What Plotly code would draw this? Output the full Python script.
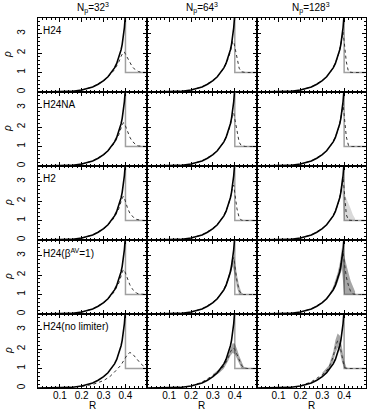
import plotly.graph_objects as go
from plotly.subplots import make_subplots

# exact solution behind the shock (black)
R_EXACT = [0.0, 0.05, 0.10, 0.15, 0.20, 0.225, 0.25, 0.275, 0.30, 0.32, 0.34, 0.35,
           0.36, 0.37, 0.38, 0.385, 0.39, 0.395, 0.40]
RHO_EXACT = [0.0, 0.0, 0.005, 0.03, 0.10, 0.17, 0.26, 0.40, 0.58, 0.78, 1.05, 1.24,
             1.47, 1.77, 2.17, 2.45, 2.80, 3.30, 4.0]
# jump back to the ambient density (grey)
R_JUMP = [0.40, 0.40, 0.50]
RHO_JUMP = [4.0, 1.0, 1.0]

COL_TITLES = ["N<sub>p</sub>=32<sup>3</sup>", "N<sub>p</sub>=64<sup>3</sup>",
              "N<sub>p</sub>=128<sup>3</sup>"]
ROW_LABELS = ["H24", "H24NA", "H2", "H24(β<sup>AV</sup>=1)", "H24(no limiter)"]

# particle profiles, sampled on a common radius grid
R_SIM = [0.20, 0.25, 0.30, 0.33, 0.35, 0.36, 0.37, 0.38, 0.385, 0.39, 0.395, 0.40,
         0.41, 0.42, 0.43, 0.44, 0.45, 0.46, 0.47, 0.48, 0.49, 0.50]

H24_32 = [0.10, 0.26, 0.57, 0.88, 1.15, 1.32, 1.55, 1.83, 1.97, 2.05, 2.05, 1.95,
          1.72, 1.50, 1.32, 1.19, 1.10, 1.05, 1.02, 1.00, 1.00, 1.00]
H24_64 = [0.10, 0.26, 0.58, 0.90, 1.22, 1.44, 1.72, 2.08, 2.38, 2.60, 2.60, 2.30,
          1.65, 1.22, 1.04, 1.00, 1.00, 1.00, 1.00, 1.00, 1.00, 1.00]
H24_128 = [0.10, 0.26, 0.58, 0.91, 1.24, 1.47, 1.77, 2.17, 2.45, 2.78, 3.08, 2.60,
           1.55, 1.03, 1.00, 1.00, 1.00, 1.00, 1.00, 1.00, 1.00, 1.00]

H24NA_32 = [0.10, 0.26, 0.57, 0.89, 1.18, 1.37, 1.62, 1.95, 2.12, 2.22, 2.20, 2.05,
            1.75, 1.48, 1.28, 1.15, 1.07, 1.03, 1.01, 1.00, 1.00, 1.00]
H24NA_64 = [0.10, 0.26, 0.58, 0.90, 1.23, 1.45, 1.74, 2.12, 2.45, 2.68, 2.72, 2.40,
            1.70, 1.22, 1.04, 1.00, 1.00, 1.00, 1.00, 1.00, 1.00, 1.00]
H24NA_128 = [0.10, 0.26, 0.58, 0.91, 1.24, 1.47, 1.77, 2.17, 2.45, 2.80, 3.20, 2.70,
             1.50, 1.05, 1.00, 1.00, 1.00, 1.00, 1.00, 1.00, 1.00, 1.00]

H2_32 = [0.10, 0.26, 0.57, 0.88, 1.17, 1.36, 1.62, 1.98, 2.18, 2.25, 2.15, 1.95,
         1.62, 1.38, 1.22, 1.12, 1.06, 1.03, 1.01, 1.00, 1.00, 1.00]
H2_64 = [0.10, 0.26, 0.59, 0.92, 1.25, 1.48, 1.78, 2.18, 2.48, 2.75, 2.82, 2.40,
         1.60, 1.15, 1.02, 1.00, 1.00, 1.00, 1.00, 1.00, 1.00, 1.00]
H2_128 = [0.10, 0.26, 0.58, 0.91, 1.24, 1.47, 1.77, 2.17, 2.45, 2.80, 3.25, 2.60,
          1.30, 1.02, 1.00, 1.00, 1.00, 1.00, 1.00, 1.00, 1.00, 1.00]

H24B_32 = [0.10, 0.26, 0.57, 0.88, 1.16, 1.35, 1.60, 1.95, 2.18, 2.28, 2.25, 2.10,
           1.78, 1.50, 1.30, 1.17, 1.08, 1.03, 1.01, 1.00, 1.00, 1.00]
H24B_64 = [0.10, 0.26, 0.59, 0.92, 1.25, 1.48, 1.78, 2.18, 2.50, 2.80, 2.90, 2.50,
           1.70, 1.20, 1.03, 1.00, 1.00, 1.00, 1.00, 1.00, 1.00, 1.00]
H24B_128 = [0.10, 0.26, 0.58, 0.91, 1.26, 1.50, 1.82, 2.25, 2.55, 2.90, 3.25, 2.70,
            1.90, 1.45, 1.15, 1.03, 1.00, 1.00, 1.00, 1.00, 1.00, 1.00]

NL_32 = [0.08, 0.18, 0.38, 0.60, 0.82, 0.93, 1.05, 1.18, 1.28, 1.38, 1.48, 1.58,
         1.74, 1.82, 1.78, 1.65, 1.50, 1.36, 1.25, 1.15, 1.08, 1.03]
NL_64 = [0.10, 0.30, 0.64, 0.88, 1.12, 1.30, 1.55, 1.85, 1.98, 2.05, 2.05, 1.98,
         1.72, 1.42, 1.18, 1.04, 1.00, 1.00, 1.00, 1.00, 1.00, 1.00]
NL_128 = [0.10, 0.32, 0.68, 1.02, 1.60, 2.10, 2.42, 2.25, 1.95, 1.62, 1.30, 1.08,
          1.00, 1.00, 1.00, 1.00, 1.00, 1.00, 1.00, 1.00, 1.00, 1.00]

# particle scatter (lower / upper envelope) for the noisy runs
R_BAND = [0.30, 0.33, 0.35, 0.36, 0.37, 0.38, 0.39, 0.40, 0.41, 0.42, 0.43, 0.44, 0.45]
H2_128_LO = [0.58, 0.90, 1.22, 1.45, 1.74, 2.10, 2.60, 1.00, 1.00, 1.00, 1.00, 1.00, 1.00]
H2_128_HI = [0.60, 0.93, 1.27, 1.50, 1.82, 2.30, 3.30, 2.40, 2.20, 1.90, 1.60, 1.30, 1.10]
H24B_64_LO = [0.57, 0.88, 1.18, 1.40, 1.66, 2.00, 2.45, 2.00, 1.35, 1.00, 1.00, 1.00, 1.00]
H24B_64_HI = [0.62, 0.96, 1.32, 1.58, 1.90, 2.35, 3.00, 2.80, 2.00, 1.45, 1.12, 1.02, 1.00]
H24B_128_LO = [0.57, 0.88, 1.15, 1.35, 1.60, 1.95, 2.30, 1.00, 1.00, 1.00, 1.00, 1.00, 1.00]
H24B_128_HI = [0.62, 0.97, 1.40, 1.70, 2.10, 2.60, 3.40, 3.00, 2.60, 2.10, 1.70, 1.40, 1.15]
NL_64_LO = [0.55, 0.78, 1.00, 1.18, 1.40, 1.65, 1.80, 1.75, 1.50, 1.22, 1.02, 1.00, 1.00]
NL_64_HI = [0.72, 0.98, 1.25, 1.45, 1.72, 2.05, 2.30, 2.28, 2.00, 1.65, 1.35, 1.12, 1.02]
NL_128_LO = [0.58, 0.88, 1.35, 1.80, 2.05, 1.90, 1.35, 1.00, 1.00, 1.00, 1.00, 1.00, 1.00]
NL_128_HI = [0.78, 1.15, 1.85, 2.45, 2.80, 2.70, 2.10, 1.40, 1.08, 1.00, 1.00, 1.00, 1.00]

PROFILES = [[H24_32, H24_64, H24_128],
            [H24NA_32, H24NA_64, H24NA_128],
            [H2_32, H2_64, H2_128],
            [H24B_32, H24B_64, H24B_128],
            [NL_32, NL_64, NL_128]]
BANDS = {(3, 3): (H2_128_LO, H2_128_HI, "rgba(0,0,0,0.15)"),
         (4, 2): (H24B_64_LO, H24B_64_HI, "rgba(0,0,0,0.30)"),
         (4, 3): (H24B_128_LO, H24B_128_HI, "rgba(0,0,0,0.35)"),
         (5, 2): (NL_64_LO, NL_64_HI, "rgba(0,0,0,0.35)"),
         (5, 3): (NL_128_LO, NL_128_HI, "rgba(0,0,0,0.35)")}

FONT = "Liberation Sans, Arial, sans-serif"


def ref(axis, n):
    # plotly names the first axis "x"/"y", not "x1"
    return f"{axis}{'' if n == 1 else n} domain"


fig = make_subplots(rows=5, cols=3, horizontal_spacing=0, vertical_spacing=0)

for r in range(1, 6):
    for c in range(1, 4):
        fig.add_trace(go.Scatter(x=R_JUMP, y=RHO_JUMP, mode="lines",
                                 line=dict(color="#a0a0a0", width=1.5)), row=r, col=c)
        if (r, c) in BANDS:
            lo, hi, fc = BANDS[(r, c)]
            fig.add_trace(go.Scatter(x=R_BAND + R_BAND[::-1], y=lo + hi[::-1],
                                     mode="lines", fill="toself", fillcolor=fc,
                                     line=dict(width=0)), row=r, col=c)
        fig.add_trace(go.Scatter(x=R_SIM, y=PROFILES[r - 1][c - 1], mode="lines",
                                 line=dict(color="#333333", width=1, dash="dot")),
                      row=r, col=c)
        fig.add_trace(go.Scatter(x=R_EXACT, y=RHO_EXACT, mode="lines",
                                 line=dict(color="black", width=1.6)), row=r, col=c)

axis_common = dict(showline=True, linecolor="black", linewidth=1, mirror="allticks",
                   ticks="inside", ticklen=4, tickcolor="black", showgrid=False,
                   zeroline=False, automargin=False,
                   tickfont=dict(family=FONT, size=10, color="black"))

for r in range(1, 6):
    for c in range(1, 4):
        fig.update_xaxes(range=[0, 0.5], tickvals=[0.1, 0.2, 0.3, 0.4],
                         ticktext=["0.1", "0.2", "0.3", "0.4"],
                         showticklabels=(r == 5), ticklabelstandoff=-2,
                         minor=dict(tickmode="linear", tick0=0, dtick=0.02,
                                    ticks="inside", ticklen=2, tickcolor="black"),
                         row=r, col=c, **axis_common)
        fig.update_yaxes(range=[0, 3.8], tickvals=[0, 1, 2, 3], tickangle=-90,
                         showticklabels=(c == 1), ticklabelstandoff=8,
                         minor=dict(tickmode="linear", tick0=0, dtick=0.2,
                                    ticks="inside", ticklen=2, tickcolor="black"),
                         row=r, col=c, **axis_common)

annotations = []
for c, title in enumerate(COL_TITLES):
    n = c + 1
    annotations.append(dict(text=title, xref=ref("x", n), yref="paper",
                            x=0.5, y=1.0, yshift=10, yanchor="middle",
                            xanchor="center", showarrow=False,
                            font=dict(family=FONT, size=10)))
    annotations.append(dict(text="R", xref=ref("x", 12 + n), yref="paper",
                            x=0.5, y=0.0, yshift=-17, yanchor="middle",
                            xanchor="center", showarrow=False,
                            font=dict(family=FONT, size=10)))
for r, label in enumerate(ROW_LABELS):
    n = r * 3 + 1
    annotations.append(dict(text=label, xref=ref("x", n), yref=ref("y", n),
                            x=0.03, y=0.93, xanchor="left", yanchor="top",
                            showarrow=False, font=dict(family=FONT, size=10)))
    annotations.append(dict(text="<i>ρ</i>", xref="paper", yref=ref("y", n),
                            x=0.0, xshift=-30, y=0.5, textangle=-90,
                            xanchor="center", yanchor="middle",
                            showarrow=False, font=dict(family=FONT, size=10)))

fig.update_layout(width=374, height=412, margin=dict(l=38, r=8, t=18, b=24),
                  plot_bgcolor="white", paper_bgcolor="white", showlegend=False,
                  font=dict(family=FONT, size=10, color="black"),
                  annotations=annotations)

# drop the browser's default 8px page margin so the figure sits at the corner
fig.write_html("out.html", config={"displayModeBar": False},
               post_script="document.body.style.margin = '0px';")
